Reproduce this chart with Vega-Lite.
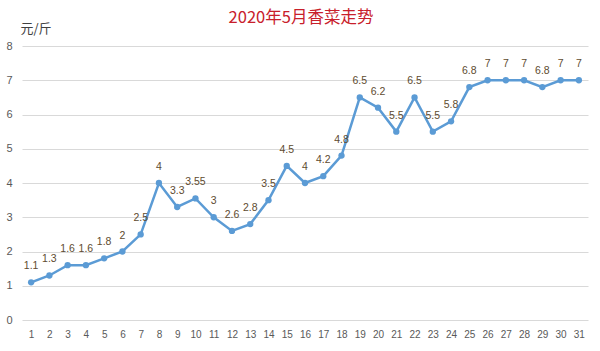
{
  "$schema": "https://vega.github.io/schema/vega-lite/v6.json",
  "width": 566,
  "height": 274,
  "autosize": {"type": "none"},
  "padding": {"left": 22, "top": 46, "right": 12, "bottom": 31},
  "background": "white",
  "title": {
    "text": "2020年5月香菜走势",
    "color": "#C8202B",
    "font": "Noto Sans CJK SC",
    "fontSize": 16.5,
    "fontWeight": "normal",
    "anchor": "middle",
    "baseline": "bottom",
    "offset": -20,
    "dx": -4
  },
  "config": {
    "view": {"stroke": null},
    "axis": {"labelFont": "Liberation Sans", "labelColor": "#595959", "labelFontSize": 11}
  },
  "data": {
    "values": [
      {"day": 1, "price": 1.1}, {"day": 2, "price": 1.3}, {"day": 3, "price": 1.6},
      {"day": 4, "price": 1.6}, {"day": 5, "price": 1.8}, {"day": 6, "price": 2},
      {"day": 7, "price": 2.5}, {"day": 8, "price": 4}, {"day": 9, "price": 3.3},
      {"day": 10, "price": 3.55}, {"day": 11, "price": 3}, {"day": 12, "price": 2.6},
      {"day": 13, "price": 2.8}, {"day": 14, "price": 3.5}, {"day": 15, "price": 4.5},
      {"day": 16, "price": 4}, {"day": 17, "price": 4.2}, {"day": 18, "price": 4.8},
      {"day": 19, "price": 6.5}, {"day": 20, "price": 6.2}, {"day": 21, "price": 5.5},
      {"day": 22, "price": 6.5}, {"day": 23, "price": 5.5}, {"day": 24, "price": 5.8},
      {"day": 25, "price": 6.8}, {"day": 26, "price": 7}, {"day": 27, "price": 7},
      {"day": 28, "price": 7}, {"day": 29, "price": 6.8}, {"day": 30, "price": 7},
      {"day": 31, "price": 7}
    ]
  },
  "encoding": {
    "x": {
      "field": "day",
      "type": "ordinal",
      "scale": {"type": "point", "padding": 0.5},
      "axis": {"title": null, "labelAngle": 0, "domain": false, "ticks": false, "labelPadding": 9, "grid": false, "labelFontSize": 10}
    },
    "y": {
      "field": "price",
      "type": "quantitative",
      "scale": {"domain": [0, 8]},
      "axis": {
        "title": "元/斤",
        "titleAngle": 0,
        "titleAlign": "left",
        "titleBaseline": "alphabetic",
        "titleX": -2,
        "titleY": -14,
        "titleFont": "Noto Sans CJK SC",
        "titleFontSize": 13,
        "titleFontWeight": "normal",
        "titleColor": "#404040",
        "values": [0, 1, 2, 3, 4, 5, 6, 7, 8],
        "labelOverlap": false,
        "domain": false,
        "ticks": false,
        "labelPadding": 10,
        "gridColor": "#d9d9d9",
        "gridWidth": 1
      }
    }
  },
  "layer": [
    {
      "mark": {"type": "line", "color": "#5B9BD5", "strokeWidth": 2.5, "point": {"filled": true, "size": 40, "color": "#5B9BD5"}}
    },
    {
      "mark": {"type": "text", "dy": -11, "baseline": "bottom", "font": "Liberation Sans", "fontSize": 10.5, "color": "#5e4b30"},
      "encoding": {"text": {"field": "price", "type": "quantitative"}}
    }
  ]
}
